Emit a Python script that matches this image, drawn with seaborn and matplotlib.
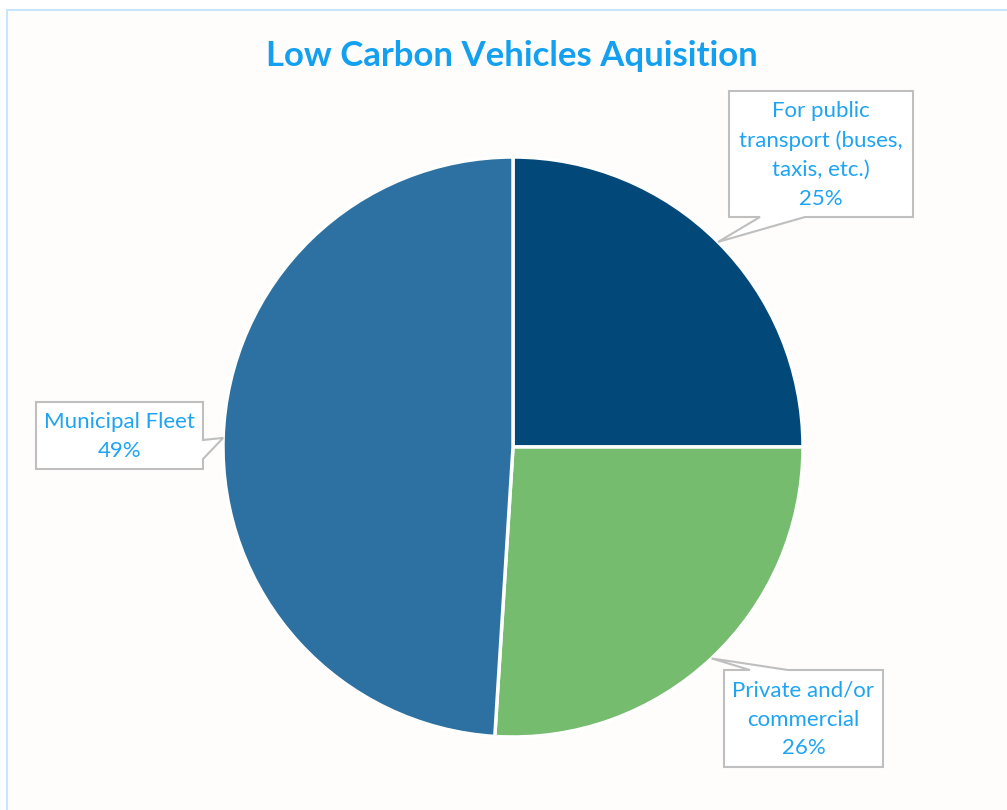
import numpy as np
import matplotlib
matplotlib.use("Agg")
import matplotlib.pyplot as plt
from matplotlib.patches import Rectangle, Polygon
from matplotlib.transforms import Affine2D
import seaborn as sns

sns.set_theme(style="white")
plt.rcParams["font.family"] = ["Lato", "DejaVu Sans"]

# Data
categories = ["For public\ntransport (buses,\ntaxis, etc.)", "Private and/or\ncommercial", "Municipal Fleet"]
shares = [25, 26, 49]
colors = ["#02497A", "#76BC6F", "#2C71A1"]

TITLE_COLOR = "#14A0F0"
LABEL_COLOR = "#1EA4F3"
BOX_EDGE = "#BFBFBF"

W, H = 1007, 810
fig = plt.figure(figsize=(W / 100, H / 100), dpi=100)
fig.patch.set_facecolor("white")
# pixel coordinates measured from the top-left corner
px = Affine2D().scale(1, -1).translate(0, H)

# chart area frame
fig.patches.append(Rectangle((7 / W, -0.1), 1.2, (H - 10) / H + 0.1,
                             transform=fig.transFigure, facecolor="#FEFDFB",
                             edgecolor="#C8E6FB", linewidth=1.5, zorder=-5))

cx, cy, r = 513, 447, 290
ax = fig.add_axes([(cx - r) / W, (H - cy - r) / H, 2 * r / W, 2 * r / H])
ax.set_facecolor("none")
ax.set_zorder(2)

wedges, _ = ax.pie(shares, colors=colors, startangle=90, counterclock=False,
                   radius=1.0, wedgeprops=dict(edgecolor="white", linewidth=2.5))
ax.set_xlim(-1, 1)
ax.set_ylim(-1, 1)
ax.set_aspect("auto")
ax.axis("off")

# callout boxes: (left, top, right, bottom), pointer edge, pointer base span
callouts = [
    ((729, 91, 913, 217), "bottom", (760, 805)),
    ((724, 670, 883, 767), "top", (750, 788)),
    ((36, 402, 203, 469), "right", (440, 459)),
]

fig.canvas.draw()
for w, cat, val, (box, edge, span) in zip(wedges, categories, shares, callouts):
    mid = np.deg2rad((w.theta1 + w.theta2) / 2)
    tx, ty = ax.transData.transform((np.cos(mid), np.sin(mid)))
    tip = (tx, H - ty)
    l, t, rt, b = box
    if edge == "bottom":
        pts = [(l, t), (rt, t), (rt, b), (span[1], b), tip, (span[0], b), (l, b)]
    elif edge == "top":
        pts = [(l, t), (span[0], t), tip, (span[1], t), (rt, t), (rt, b), (l, b)]
    else:
        pts = [(l, t), (rt, t), (rt, span[0]), tip, (rt, span[1]), (rt, b), (l, b)]
    fig.patches.append(Polygon(pts, closed=True, transform=px, facecolor="white",
                               edgecolor=BOX_EDGE, linewidth=1.5, zorder=5))
    fig.text((l + rt) / 2 / W, 1 - ((t + b) / 2 + 1) / H, f"{cat}\n{val}%",
             ha="center", va="center", fontsize=16, color=LABEL_COLOR,
             linespacing=1.55, zorder=6)

fig.text(512 / W, 1 - 56 / H, "Low Carbon Vehicles Aquisition", ha="center", va="center",
         fontsize=25, fontweight="bold", color=TITLE_COLOR)

fig.savefig("out.png", dpi=100, facecolor=fig.get_facecolor())
